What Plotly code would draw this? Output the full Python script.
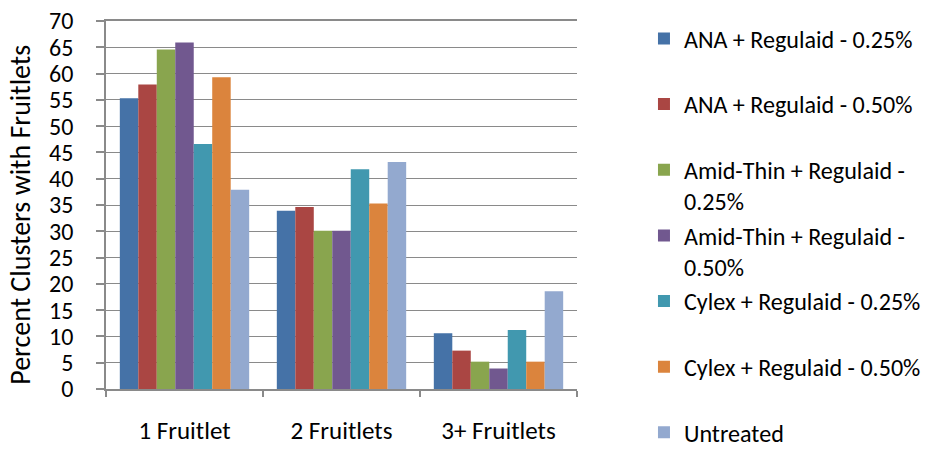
import plotly.graph_objects as go

categories = ["1 Fruitlet", "2 Fruitlets", "3+ Fruitlets"]
series_names = [
    "ANA + Regulaid - 0.25%",
    "ANA + Regulaid - 0.50%",
    "Amid-Thin + Regulaid -<br>0.25%",
    "Amid-Thin + Regulaid -<br>0.50%",
    "Cylex + Regulaid - 0.25%",
    "Cylex + Regulaid - 0.50%",
    "Untreated",
]
ana_025 = [55.3, 33.9, 10.6]
ana_050 = [57.9, 34.6, 7.3]
amid_025 = [64.6, 30.1, 5.2]
amid_050 = [65.9, 30.1, 3.9]
cylex_025 = [46.6, 41.8, 11.2]
cylex_050 = [59.3, 35.3, 5.2]
untreated = [37.9, 43.2, 18.6]
series_values = [ana_025, ana_050, amid_025, amid_050, cylex_025, cylex_050, untreated]
colors = ["#4572A7", "#AA4643", "#89A54E", "#71588F", "#4198AF", "#DB843D", "#93A9CF"]
y_ticks = list(range(0, 71, 5))
y_title = "Percent Clusters with Fruitlets"

FONT = "Carlito, 'Open Sans', sans-serif"

fig = go.Figure()
n = len(series_names)
for i, (name, vals, col) in enumerate(zip(series_names, series_values, colors)):
    label = name if ("<br>" in name or i == n - 1) else name + "<br> "
    fig.add_trace(go.Bar(
        x=categories, y=vals, name=label, marker_color=col,
        marker_line_width=0, legendgroup=f"g{i}",
    ))

grid = "#8A8A8A"
fig.update_layout(
    width=948, height=451,
    margin=dict(l=105.7, r=371, t=20.7, b=61.5, autoexpand=False),
    paper_bgcolor="white", plot_bgcolor="white",
    barmode="group", bargap=0.176, bargroupgap=0,
    font=dict(family=FONT, size=22, color="black"),
    showlegend=True,
    legend=dict(
        xref="container", yref="container",
        x=0.6793, y=0.9640, xanchor="left", yanchor="top",
        traceorder="grouped", tracegroupgap=0, valign="top",
        maxheight=2000,
        font=dict(family=FONT, size=24.1, color="black"),
        bgcolor="rgba(0,0,0,0)",
    ),
    xaxis=dict(
        showline=True, linecolor=grid, linewidth=1.5, mirror=True,
        ticks="outside", tickson="boundaries", ticklen=6, tickcolor=grid, tickwidth=1.5,
        ticklabelstandoff=18,
        tickfont=dict(family=FONT, size=25, color="black"),
    ),
    yaxis=dict(
        range=[0, 70], tickvals=y_ticks,
        showline=True, linecolor=grid, linewidth=1.5,
        showgrid=True, gridcolor=grid, gridwidth=1.3,
        ticks="outside", ticklen=8, tickcolor=grid, tickwidth=1.5,
        ticklabelstandoff=18, ticklabeloverflow="allow",
        tickfont=dict(family=FONT, size=24, color="black"),
        zeroline=False,
    ),
    annotations=[dict(
        text=y_title, textangle=-90, showarrow=False,
        xref="paper", yref="paper", x=-0.1818, y=0.4745,
        xanchor="center", yanchor="middle",
        font=dict(family=FONT, size=28, color="black"),
    )],
)

fig.write_html(
    "out.html",
    config={"displayModeBar": False},
    post_script="document.body.style.margin='0';",
)
